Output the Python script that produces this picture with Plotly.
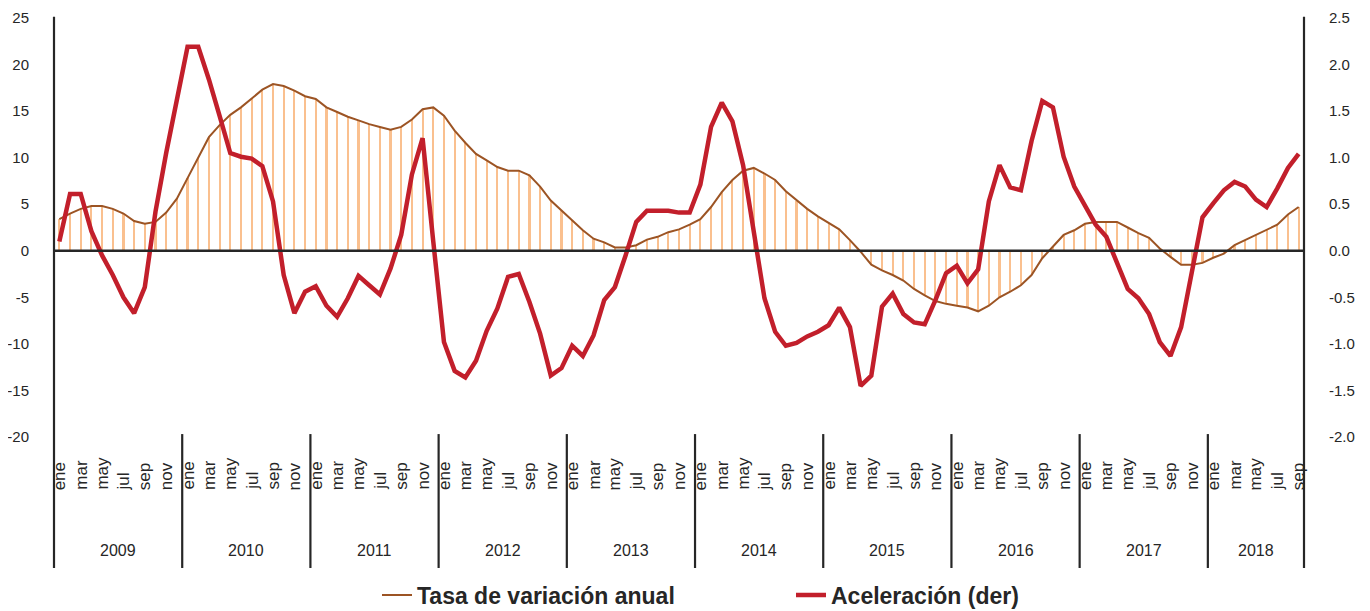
import plotly.graph_objects as go

years = [2009, 2010, 2011, 2012, 2013, 2014, 2015, 2016, 2017, 2018]
month_abbr = ["ene", "feb", "mar", "abr", "may", "jun", "jul", "ago", "sep", "oct", "nov", "dic"]

tasa_anual = [
    3.4, 4.0, 4.5, 4.8, 4.8, 4.5, 4.0, 3.2, 2.9, 3.1, 4.1, 5.6,
    7.8, 10.0, 12.2, 13.5, 14.6, 15.4, 16.4, 17.3, 17.9, 17.7, 17.2, 16.6,
    16.3, 15.4, 14.9, 14.4, 14.0, 13.6, 13.3, 13.0, 13.3, 14.1, 15.2, 15.4,
    14.5, 12.9, 11.6, 10.4, 9.7, 9.0, 8.6, 8.6, 8.1, 6.9, 5.4, 4.3,
    3.3, 2.2, 1.3, 0.9, 0.35, 0.35, 0.6, 1.2, 1.5, 2.0, 2.3, 2.8,
    3.4, 4.7, 6.3, 7.6, 8.6, 8.9, 8.3, 7.6, 6.4, 5.4, 4.5, 3.7,
    3.0, 2.3, 1.15, -0.1, -1.5, -2.1, -2.6, -3.2, -4.1, -4.8, -5.4, -5.7,
    -5.9, -6.1, -6.5, -5.9, -5.0, -4.4, -3.7, -2.6, -0.8, 0.5, 1.7, 2.2,
    2.9, 3.1, 3.1, 3.1, 2.5, 1.9, 1.4, 0.25, -0.65, -1.5, -1.5, -1.3,
    -0.75, -0.3, 0.6, 1.15, 1.7, 2.2, 2.8, 3.9, 4.7,
]

aceleracion = [
    0.10, 0.61, 0.61, 0.21, -0.05, -0.26, -0.50, -0.67, -0.39, 0.42, 1.05, 1.61,
    2.19, 2.19, 1.84, 1.45, 1.05, 1.01, 0.99, 0.91, 0.53, -0.26, -0.67, -0.44,
    -0.38, -0.59, -0.71, -0.51, -0.27, -0.37, -0.47, -0.19, 0.17, 0.82, 1.21, 0.10,
    -0.98, -1.29, -1.36, -1.18, -0.86, -0.62, -0.28, -0.25, -0.55, -0.89, -1.34, -1.26,
    -1.02, -1.13, -0.91, -0.53, -0.39, -0.05, 0.31, 0.43, 0.43, 0.43, 0.41, 0.41,
    0.71, 1.33, 1.59, 1.39, 0.92, 0.24, -0.51, -0.87, -1.02, -0.99, -0.92, -0.87,
    -0.80, -0.61, -0.82, -1.45, -1.34, -0.60, -0.46, -0.68, -0.77, -0.79, -0.53, -0.24,
    -0.16, -0.35, -0.20, 0.53, 0.92, 0.68, 0.65, 1.18, 1.61, 1.54, 1.01, 0.69,
    0.49, 0.28, 0.15, -0.12, -0.41, -0.51, -0.68, -0.98, -1.13, -0.82, -0.24, 0.36,
    0.51, 0.65, 0.74, 0.69, 0.55, 0.47, 0.67, 0.89, 1.04,
]

left_ticks = [-20, -15, -10, -5, 0, 5, 10, 15, 20, 25]
right_ticks = [-2.0, -1.5, -1.0, -0.5, 0.0, 0.5, 1.0, 1.5, 2.0, 2.5]

n = len(tasa_anual)
xpos = list(range(n))
month_of = [month_abbr[i % 12] for i in xpos]

TXT = "#262626"
FONT = "Liberation Sans, Arial, sans-serif"

fig = go.Figure()
fig.add_trace(go.Bar(
    x=xpos, y=tasa_anual, width=0.2, marker=dict(color="#FAC08F", line=dict(width=0)),
    showlegend=False, hoverinfo="skip",
))
fig.add_trace(go.Scatter(
    x=xpos, y=tasa_anual, mode="lines", name="Tasa de variación anual",
    line=dict(color="#9C5424", width=2),
))
fig.add_trace(go.Scatter(
    x=xpos, y=aceleracion, mode="lines", name="Aceleración (der)", yaxis="y2",
    line=dict(color="#C21F2B", width=4.5),
))

PB = -0.3126  # bottom of category band (paper units)

shapes = []
# zero line above the bars
shapes.append(dict(type="line", xref="paper", yref="y", x0=0, x1=1, y0=0, y1=0,
                   line=dict(color=TXT, width=2.5), layer="above"))
# extended vertical axis lines
for xp in (0, 1):
    shapes.append(dict(type="line", xref="paper", yref="paper", x0=xp, x1=xp, y0=PB, y1=1.003,
                       line=dict(color=TXT, width=2.2)))
# year separators
for k in range(1, len(years)):
    xs = 12 * k - 0.5
    shapes.append(dict(type="line", xref="x", yref="paper", x0=xs, x1=xs, y0=PB, y1=0.007,
                       line=dict(color=TXT, width=2.2)))

annotations = []
for i in xpos:
    if i % 2 == 0:
        annotations.append(dict(x=i, y=-0.1313, xref="x", yref="paper", text=month_of[i],
                                textangle=-90, showarrow=False, xanchor="center", yanchor="bottom",
                                font=dict(family=FONT, size=17, color=TXT)))
for k, yr in enumerate(years):
    first = 12 * k
    last = min(12 * k + 11, n - 1)
    annotations.append(dict(x=(first + last) / 2, y=-0.2697, xref="x", yref="paper", text=str(yr),
                            showarrow=False, xanchor="center", yanchor="middle",
                            font=dict(family=FONT, size=16, color=TXT)))

# page body has an 8px margin, so the figure is sized to fill the rest of the window
fig.update_layout(
    width=1362, height=603,
    margin=dict(l=46, r=66, t=10, b=174, autoexpand=False),
    paper_bgcolor="white", plot_bgcolor="white",
    showlegend=True,
    legend=dict(orientation="h", x=0.2584, y=-0.377, xanchor="left", yanchor="middle",
                entrywidth=369, entrywidthmode="pixels",
                font=dict(family=FONT, size=23, color=TXT, weight="bold"),
                bgcolor="rgba(0,0,0,0)"),
    xaxis=dict(range=[-0.5, n - 0.5], showticklabels=False, showgrid=False, zeroline=False,
               showline=False, ticks="", automargin=False),
    yaxis=dict(range=[-20, 25], tickvals=left_ticks, ticktext=[str(v) for v in left_ticks],
               showgrid=False, zeroline=False, automargin=False,
               showline=False, ticks="", ticklabelstandoff=24,
               tickfont=dict(family=FONT, size=15, color=TXT)),
    yaxis2=dict(range=[-2.0, 2.5], overlaying="y", side="right", tickvals=right_ticks,
                ticktext=[f"{v:.1f}" for v in right_ticks], automargin=False,
                showgrid=False, zeroline=False, showline=False, ticks="", ticklabelstandoff=24,
                tickfont=dict(family=FONT, size=15, color=TXT)),
    shapes=shapes,
    annotations=annotations,
    bargap=0,
)

fig.write_html("out.html")
